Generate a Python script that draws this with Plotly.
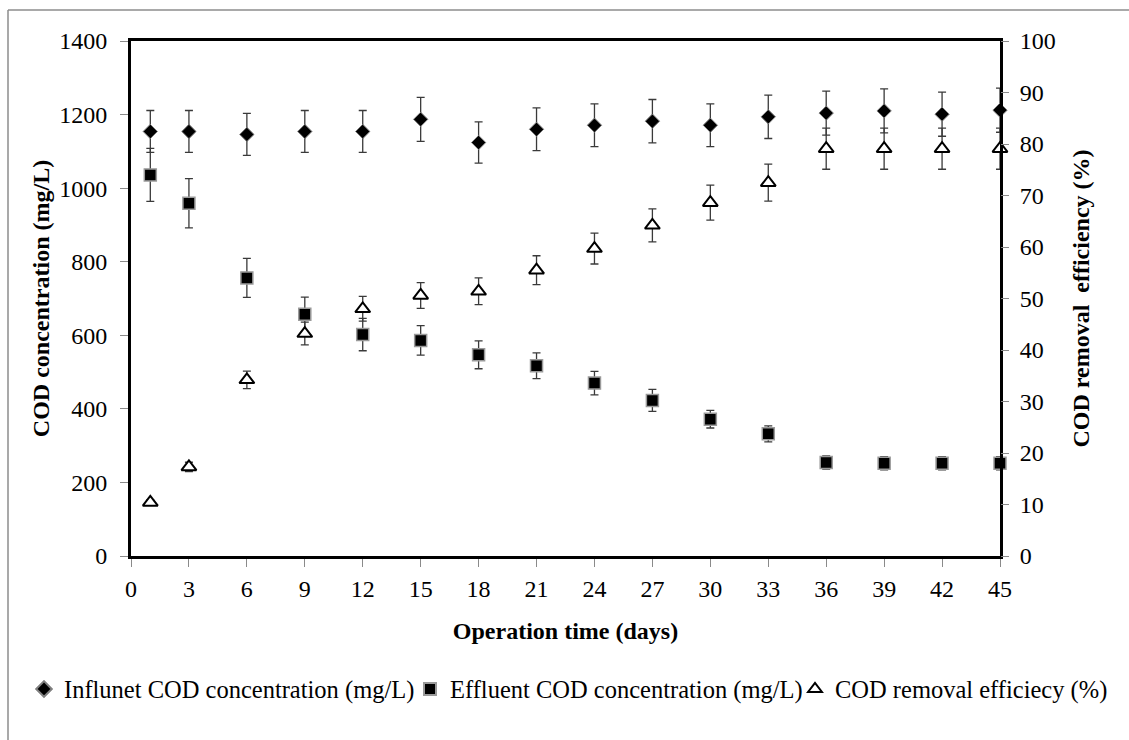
import plotly.graph_objects as go

# ---------------- data ----------------
days = [1, 3, 6, 9, 12, 15, 18, 21, 24, 27, 30, 33, 36, 39, 42, 45]

influent = [1154, 1154, 1146, 1154, 1154, 1187, 1124, 1160, 1171, 1182, 1171, 1194, 1204, 1210, 1201, 1212]
influent_err = [57, 57, 57, 57, 57, 60, 56, 58, 58, 59, 58, 59, 60, 60, 60, 60]

effluent = [1036, 959, 756, 657, 602, 586, 547, 517, 470, 423, 372, 332, 254, 252, 252, 252]
effluent_err = [72, 67, 53, 47, 44, 40, 38, 35, 32, 30, 24, 22, 18, 18, 18, 18]

removal = [10.4, 17.3, 34.2, 43.2, 48.0, 50.6, 51.4, 55.5, 59.7, 64.2, 68.6, 72.5, 79.1, 79.1, 79.1, 79.1]
removal_err = [0.5, 0.9, 1.7, 2.2, 2.4, 2.5, 2.6, 2.8, 3.0, 3.2, 3.4, 3.6, 4.0, 4.0, 4.0, 4.0]

x_ticks = list(range(0, 46, 3))

# ---------------- figure ----------------
W, H = 1129, 740
ML, MR, MT, MB = 131, 129, 41, 184
FONT = "Liberation Serif"
ERR_COLOR = "#3a3a3a"

fig = go.Figure()

fig.add_trace(go.Scatter(
    x=days, y=influent, mode="markers",
    name="Influnet COD concentration (mg/L)", legend="legend",
    marker=dict(symbol="diamond", size=11, color="black",
                line=dict(color="#808080", width=1)),
    error_y=dict(type="data", array=influent_err, visible=True,
                 color=ERR_COLOR, thickness=1.3, width=4),
    cliponaxis=False,
))

fig.add_trace(go.Scatter(
    x=days, y=effluent, mode="markers",
    name="Effluent COD concentration (mg/L)", legend="legend2",
    marker=dict(symbol="square", size=12, color="black",
                line=dict(color="#9a9a9a", width=1.5)),
    error_y=dict(type="data", array=effluent_err, visible=True,
                 color=ERR_COLOR, thickness=1.3, width=4),
    cliponaxis=False,
))

fig.add_trace(go.Scatter(
    x=days, y=removal, mode="markers", yaxis="y2",
    name="COD removal efficiecy (%)", legend="legend3",
    marker=dict(symbol="triangle-up", size=13, color="white",
                line=dict(color="black", width=2)),
    error_y=dict(type="data", array=removal_err, visible=True,
                 color=ERR_COLOR, thickness=1.3, width=4),
    cliponaxis=False,
))

tickfont = dict(family=FONT, size=24, color="black")
titlefont = dict(family=FONT, size=24, color="black", weight="bold")


def legend_at(left_px):
    # one legend entry, placed in the bottom band like the reference's single-row legend
    return dict(
        orientation="h", xref="container", yref="container",
        x=left_px / W, xanchor="left", y=(H - 689) / H, yanchor="middle",
        font=dict(family=FONT, size=24.5, color="black"),
        itemsizing="constant", itemwidth=30,
        bgcolor="rgba(0,0,0,0)", borderwidth=0,
    )


fig.update_layout(
    width=W, height=H,
    margin=dict(l=ML, r=MR, t=MT, b=MB, autoexpand=False),
    paper_bgcolor="white", plot_bgcolor="white",
    font=dict(family=FONT, size=24, color="black"),
    showlegend=True,
    legend=legend_at(24),
    legend2=legend_at(410),
    legend3=legend_at(795),
    xaxis=dict(
        range=[0, 45], tickvals=x_ticks, ticktext=[str(v) for v in x_ticks],
        showgrid=False, zeroline=False,
        showline=True, linecolor="black", linewidth=3, mirror=True,
        ticks="outside", ticklen=8, tickcolor="#8a8a8a", tickwidth=1,
        tickfont=tickfont, ticklabelstandoff=1,
        title=dict(text="Operation time (days)", font=titlefont, standoff=22),
    ),
    yaxis=dict(
        range=[0, 1400], dtick=200, tick0=0,
        showgrid=False, zeroline=False,
        showline=True, linecolor="black", linewidth=3, mirror=True,
        ticks="outside", ticklen=8, tickcolor="#8a8a8a", tickwidth=1,
        tickfont=tickfont, ticklabelstandoff=8,
        title=dict(text="COD concentration (mg/L)", font=titlefont, standoff=3),
    ),
    yaxis2=dict(
        range=[0, 100], dtick=10, tick0=0, overlaying="y", side="right",
        showgrid=False, zeroline=False, showline=False,
        ticks="outside", ticklen=8, tickcolor="#8a8a8a", tickwidth=1,
        tickfont=tickfont, ticklabelstandoff=6,
        title=dict(text="COD removal  efficiency (%)", font=titlefont, standoff=17),
    ),
)

# outer chart-area frame (grey), visible on left and top edges of the reference
pw, ph = W - ML - MR, H - MT - MB
def px_to_paper_x(px):
    return (px - ML) / pw
def px_to_paper_y(py):
    return (H - MB - py) / ph

fig.add_shape(type="line", xref="paper", yref="paper",
              x0=px_to_paper_x(8), x1=px_to_paper_x(8),
              y0=px_to_paper_y(10), y1=px_to_paper_y(742),
              line=dict(color="#8c8c8c", width=1.5))
fig.add_shape(type="line", xref="paper", yref="paper",
              x0=px_to_paper_x(8), x1=px_to_paper_x(1131),
              y0=px_to_paper_y(10), y1=px_to_paper_y(10),
              line=dict(color="#8c8c8c", width=1.5))

fig.write_html("out.html", config={"displayModeBar": False})

# remove the browser's default page margin so the figure sits at (0, 0)
with open("out.html", "r", encoding="utf-8") as f:
    html = f.read()
html = html.replace("<head>", "<head><style>html,body{margin:0;padding:0;overflow:hidden;}</style>", 1)
with open("out.html", "w", encoding="utf-8") as f:
    f.write(html)
